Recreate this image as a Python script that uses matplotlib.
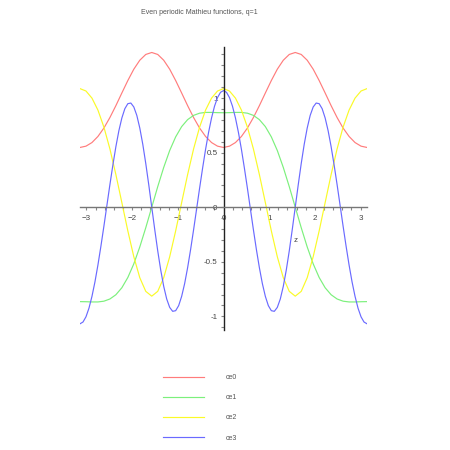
import matplotlib
matplotlib.use("Agg")
import matplotlib.pyplot as plt
from matplotlib.ticker import MultipleLocator, FixedLocator

plt.rcParams['font.family'] = ['Liberation Sans', 'DejaVu Sans']

# sample points, z from -pi to pi (step pi/24)
z = [-3.1416, -3.0107, -2.8798, -2.7489, -2.6180, -2.4871, -2.3562, -2.2253,
     -2.0944, -1.9635, -1.8326, -1.7017, -1.5708, -1.4399, -1.3090, -1.1781,
     -1.0472, -0.9163, -0.7854, -0.6545, -0.5236, -0.3927, -0.2618, -0.1309,
     0.0, 0.1309, 0.2618, 0.3927, 0.5236, 0.6545, 0.7854, 0.9163,
     1.0472, 1.1781, 1.3090, 1.4399, 1.5708, 1.7017, 1.8326, 1.9635,
     2.0944, 2.2253, 2.3562, 2.4871, 2.6180, 2.7489, 2.8798, 3.0107, 3.1416]

# finer grid for ce3 (step pi/48), it oscillates faster
z_fine = [-3.1416, -3.0761, -3.0107, -2.9452, -2.8798, -2.8143, -2.7489, -2.6834,
          -2.6180, -2.5525, -2.4871, -2.4216, -2.3562, -2.2907, -2.2253, -2.1598,
          -2.0944, -2.0289, -1.9635, -1.8980, -1.8326, -1.7671, -1.7017, -1.6362,
          -1.5708, -1.5053, -1.4399, -1.3744, -1.3090, -1.2435, -1.1781, -1.1126,
          -1.0472, -0.9817, -0.9163, -0.8508, -0.7854, -0.7199, -0.6545, -0.5890,
          -0.5236, -0.4581, -0.3927, -0.3272, -0.2618, -0.1963, -0.1309, -0.0654,
          0.0, 0.0654, 0.1309, 0.1963, 0.2618, 0.3272, 0.3927, 0.4581,
          0.5236, 0.5890, 0.6545, 0.7199, 0.7854, 0.8508, 0.9163, 0.9817,
          1.0472, 1.1126, 1.1781, 1.2435, 1.3090, 1.3744, 1.4399, 1.5053,
          1.5708, 1.6362, 1.7017, 1.7671, 1.8326, 1.8980, 1.9635, 2.0289,
          2.0944, 2.1598, 2.2253, 2.2907, 2.3562, 2.4216, 2.4871, 2.5525,
          2.6180, 2.6834, 2.7489, 2.8143, 2.8798, 2.9452, 3.0107, 3.0761, 3.1416]

ce0 = [0.547, 0.559, 0.592, 0.648, 0.725, 0.821, 0.930, 1.046, 1.160, 1.264, 1.346, 1.399,
       1.417, 1.399, 1.346, 1.264, 1.160, 1.046, 0.930, 0.821, 0.725, 0.648, 0.592, 0.559,
       0.547, 0.559, 0.592, 0.648, 0.725, 0.821, 0.930, 1.046, 1.160, 1.264, 1.346, 1.399,
       1.417, 1.399, 1.346, 1.264, 1.160, 1.046, 0.930, 0.821, 0.725, 0.648, 0.592, 0.559, 0.547]

ce1 = [-0.865, -0.866, -0.868, -0.868, -0.861, -0.841, -0.802, -0.738, -0.644, -0.519, -0.364, -0.188,
       0.0, 0.188, 0.364, 0.519, 0.644, 0.738, 0.802, 0.841, 0.861, 0.868, 0.868, 0.866,
       0.865, 0.866, 0.868, 0.868, 0.861, 0.841, 0.802, 0.738, 0.644, 0.519, 0.364, 0.188,
       0.0, -0.188, -0.364, -0.519, -0.644, -0.738, -0.802, -0.841, -0.861, -0.868, -0.868, -0.866, -0.865]

ce2 = [1.086, 1.064, 0.999, 0.889, 0.733, 0.534, 0.299, 0.042, -0.217, -0.454, -0.646, -0.771,
       -0.815, -0.771, -0.646, -0.454, -0.217, 0.042, 0.299, 0.534, 0.733, 0.889, 0.999, 1.064,
       1.086, 1.064, 0.999, 0.889, 0.733, 0.534, 0.299, 0.042, -0.217, -0.454, -0.646, -0.771,
       -0.815, -0.771, -0.646, -0.454, -0.217, 0.042, 0.299, 0.534, 0.733, 0.889, 0.999, 1.064, 1.086]

ce3 = [-1.068, -1.052, -1.004, -0.925, -0.817, -0.684, -0.529, -0.356,
       -0.173, 0.017, 0.206, 0.387, 0.554, 0.700, 0.817, 0.902,
       0.948, 0.954, 0.918, 0.841, 0.725, 0.576, 0.400, 0.205,
       0.0, -0.205, -0.400, -0.576, -0.725, -0.841, -0.918, -0.954,
       -0.948, -0.902, -0.817, -0.700, -0.554, -0.387, -0.206, -0.017,
       0.173, 0.356, 0.529, 0.684, 0.817, 0.925, 1.004, 1.052,
       1.068, 1.052, 1.004, 0.925, 0.817, 0.684, 0.529, 0.356,
       0.173, -0.017, -0.206, -0.387, -0.554, -0.700, -0.817, -0.902,
       -0.948, -0.954, -0.918, -0.841, -0.725, -0.576, -0.400, -0.205,
       0.0, 0.205, 0.400, 0.576, 0.725, 0.841, 0.918, 0.954,
       0.948, 0.902, 0.817, 0.700, 0.554, 0.387, 0.206, 0.017,
       -0.173, -0.356, -0.529, -0.684, -0.817, -0.925, -1.004, -1.052, -1.068]

names = ["ce0", "ce1", "ce2", "ce3"]
colors = ["#ff7c7c", "#7cf07c", "#fafa28", "#6a6aff"]
xticks = [-3, -2, -1, 0, 1, 2, 3]
yticks = [-1, -0.5, 0, 0.5, 1]
yticklabels = ["-1", "-0.5", "0", "0.5", "1"]

fig = plt.figure(figsize=(4.5, 4.5), dpi=100)
ax = fig.add_axes([80 / 450, 120 / 450, 287 / 450, 283.3 / 450])

xs = [z, z, z, z_fine]
for xv, series, name, col in zip(xs, [ce0, ce1, ce2, ce3], names, colors):
    ax.plot(xv, series, color=col, lw=0.85, label=name)

ax.set_xlim(-3.1416, 3.1416)
ax.set_ylim(-1.125, 1.47)

# axes through the origin, Maple style
ax.spines['left'].set_position('zero')
ax.spines['bottom'].set_position('zero')
ax.spines['top'].set_visible(False)
ax.spines['right'].set_visible(False)
ax.spines['left'].set_linewidth(1.0)
ax.spines['bottom'].set_linewidth(1.0)
ax.spines['left'].set_color('#222222')
ax.spines['bottom'].set_color('#777777')

ax.xaxis.set_major_locator(FixedLocator(xticks))
ax.xaxis.set_minor_locator(MultipleLocator(0.2))
ax.yaxis.set_major_locator(FixedLocator(yticks))
ax.set_yticklabels(yticklabels)
ax.yaxis.set_minor_locator(MultipleLocator(0.1))
ax.tick_params(which='both', direction='out', length=2.3, width=0.8, color='#888888',
               labelsize=5.8, labelcolor='#444444')
ax.tick_params(axis='x', pad=3)
ax.tick_params(axis='y', pad=2)

ax.set_xlabel('z', fontsize=5.8, color='#444444')
ax.xaxis.set_label_coords(0.753, 0.328)

fig.text(199 / 450, 1 - 12 / 450, "Even periodic Mathieu functions, q=1", ha='center', va='center',
         fontsize=5, color='#555555')

fig.legend(loc='upper left', bbox_to_anchor=(163 / 450, 1 - 374 / 450), frameon=False,
           fontsize=5, handlelength=5.9, handletextpad=3.1, labelspacing=1.9, borderpad=0,
           borderaxespad=0, labelcolor='#555555')

fig.savefig("out.png", dpi=100)
